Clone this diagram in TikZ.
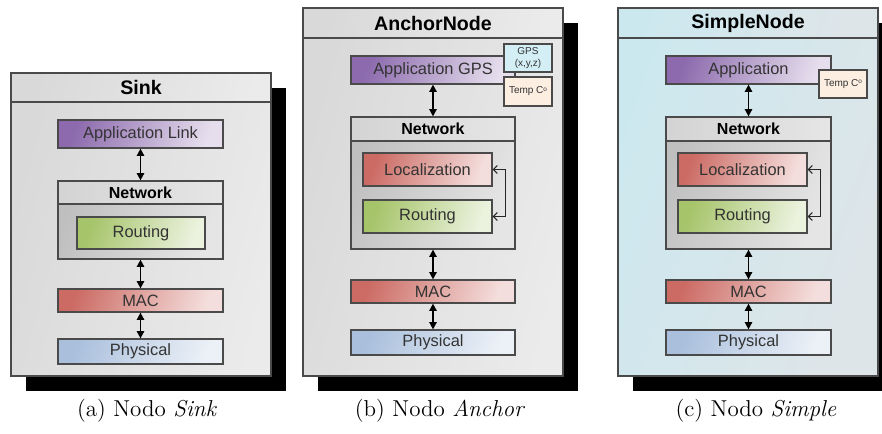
\documentclass[tikz,border=0pt]{standalone}
\usepackage{fontspec}
\newfontfamily\arialfont{Liberation Sans}
\usepackage{tikz}
\usetikzlibrary{positioning}
\usetikzlibrary{arrows.meta,shadows}

\definecolor{edgegray}{HTML}{4A4A4A}
\definecolor{appvio}{HTML}{8C6AAD}
\definecolor{routgreen}{HTML}{A6C46A}
\definecolor{macred}{HTML}{CC6B64}
\definecolor{phyblue}{HTML}{A9BFDC}
\definecolor{gpscyan}{HTML}{D3EEF5}
\definecolor{temppeach}{HTML}{FDEEE2}
\definecolor{skyleft}{HTML}{CCE8EF}
\definecolor{skyright}{HTML}{DEE5E8}

\newcommand{\dego}{\raisebox{0.55ex}{\fontsize{3.2}{3.2}\selectfont o}}

\begin{document}
\begin{tikzpicture}[x=0.5pt,y=-0.5pt,
 panel/.style={draw=edgegray,line width=0.6pt,minimum width=130pt,
   general shadow={fill=black,shadow xshift=7.5pt,shadow yshift=-7.5pt}},
 grayfill/.style={left color=black!15,right color=black!8,shading angle=75},
 bluefill/.style={left color=skyleft,right color=skyright,shading angle=70},
 titlebar/.style={draw=edgegray,line width=0.6pt,minimum width=130pt,inner sep=0pt,
   anchor=north,font=\arialfont\bfseries\fontsize{9.8}{11}\selectfont},
 layer/.style={draw=edgegray,line width=0.6pt,inner sep=0pt,text=black!80,
   minimum width=82.5pt,font=\arialfont\fontsize{8.2}{9}\selectfont},
 tint/.style={left color=#1,right color=#1!22!white,shading angle=70},
 netbody/.style={layer,left color=black!25,right color=black!10,shading angle=70},
 nethead/.style={draw=edgegray,line width=0.6pt,inner sep=0pt,anchor=north,
   minimum width=82.5pt,minimum height=11.5pt,left color=black!17,right color=black!10,
   font=\arialfont\bfseries\fontsize{8}{9}\selectfont},
 sensor/.style={draw=edgegray,line width=0.6pt,inner sep=0pt,minimum width=24pt,
   minimum height=14pt,align=center,text=black!80,font=\arialfont\fontsize{5}{6}\selectfont},
 biarrow/.style={{Triangle[length=3.6pt,width=3.6pt]}-{Triangle[length=3.6pt,width=3.6pt]},
   line width=0.8pt,black},
 looparrow/.style={{Straight Barb[length=2pt,width=4pt]}-{Straight Barb[length=2pt,width=4pt]},
   line width=0.5pt,black!85},
 caption/.style={font=\fontsize{11.5}{14}\selectfont}]
\useasboundingbox (0,0) rectangle (882,433);

% (a) Sink
\node[panel,grayfill,minimum height=151.5pt] (sink) at (141,224.5) {};
\node[titlebar,grayfill,minimum height=14.5pt] (sinkttl) at (sink.north) {Sink};
\node[layer,tint=appvio,minimum height=14pt] (sapp) at (140.5,134) {Application Link};
\node[netbody,minimum height=39pt] (snet) at (140.5,220) {};
\node[nethead] (snethd) at (snet.north) {Network};
\node[layer,tint=routgreen,minimum width=64pt,minimum height=16pt] (srout) at (141,233) {Routing};
\node[layer,tint=macred,minimum height=11.5pt] (smac) at (140.5,300.5) {MAC};
\node[layer,tint=phyblue,minimum height=12.5pt] (sphy) at (140.5,351.5) {Physical};
\draw[biarrow] (sapp) -- (snet);
\draw[biarrow] (snet) -- (smac);
\draw[biarrow] (smac) -- (sphy);

% (b) Anchor
\node[panel,grayfill,minimum height=184pt] (anchor) at (433,192) {};
\node[titlebar,grayfill,minimum height=15pt] (anchorttl) at (anchor.north) {AnchorNode};
\node[layer,tint=appvio,minimum width=82pt,minimum height=14pt] (aapp) at (433,70) {Application GPS};
\node[sensor,fill=gpscyan] (agps) at (528,58) {GPS\\(x,y,z)};
\node[sensor,fill=temppeach,minimum height=14.5pt] (atemp) at (528,91.5) {Temp C\dego};
\node[netbody,minimum width=82pt,minimum height=66pt] (anet) at (433,183) {};
\node[nethead,minimum width=82pt,minimum height=12pt] (anethd) at (anet.north) {Network};
\node[layer,tint=macred,minimum width=64.5pt,minimum height=16.5pt] (aloc) at (427.5,169.5) {Localization};
\node[layer,tint=routgreen,minimum width=64.5pt,minimum height=16.5pt] (arout) at (427.5,216.5) {Routing};
\node[layer,tint=macred,minimum width=82pt,minimum height=11.5pt] (amac) at (433,291.5) {MAC};
\node[layer,tint=phyblue,minimum width=82pt,minimum height=12.5pt] (aphy) at (433,342.5) {Physical};
\draw[biarrow] (aapp) -- (anet);
\draw[biarrow] (anet) -- (amac);
\draw[biarrow] (amac) -- (aphy);
\draw[looparrow] (aloc.east) -- ++(13,0) |- (arout.east);

% (c) Simple
\node[panel,bluefill,minimum height=184pt] (simple) at (748,192) {};
\node[titlebar,bluefill,minimum height=15pt] (simplettl) at (simple.north) {SimpleNode};
\node[layer,tint=appvio,minimum height=14pt] (capp) at (748.5,70) {Application};
\node[sensor,fill=temppeach] (ctemp) at (843,84) {Temp C\dego};
\node[netbody,minimum height=66pt] (cnet) at (748.5,183) {};
\node[nethead,minimum height=12pt] (cnethd) at (cnet.north) {Network};
\node[layer,tint=macred,minimum width=64.5pt,minimum height=16.5pt] (cloc) at (742.5,169.5) {Localization};
\node[layer,tint=routgreen,minimum width=64.5pt,minimum height=16.5pt] (crout) at (742.5,216.5) {Routing};
\node[layer,tint=macred,minimum height=11.5pt] (cmac) at (748.5,291.5) {MAC};
\node[layer,tint=phyblue,minimum height=12.5pt] (cphy) at (748.5,342.5) {Physical};
\draw[biarrow] (capp) -- (cnet);
\draw[biarrow] (cnet) -- (cmac);
\draw[biarrow] (cmac) -- (cphy);
\draw[looparrow] (cloc.east) -- ++(13,0) |- (crout.east);

% captions
\node[caption] (capa) at (147,411) {(a) Nodo \textit{Sink}};
\node[caption] (capb) at (440,411) {(b) Nodo \textit{Anchor}};
\node[caption] (capc) at (756,411) {(c) Nodo \textit{Simple}};
\end{tikzpicture}
\end{document}
